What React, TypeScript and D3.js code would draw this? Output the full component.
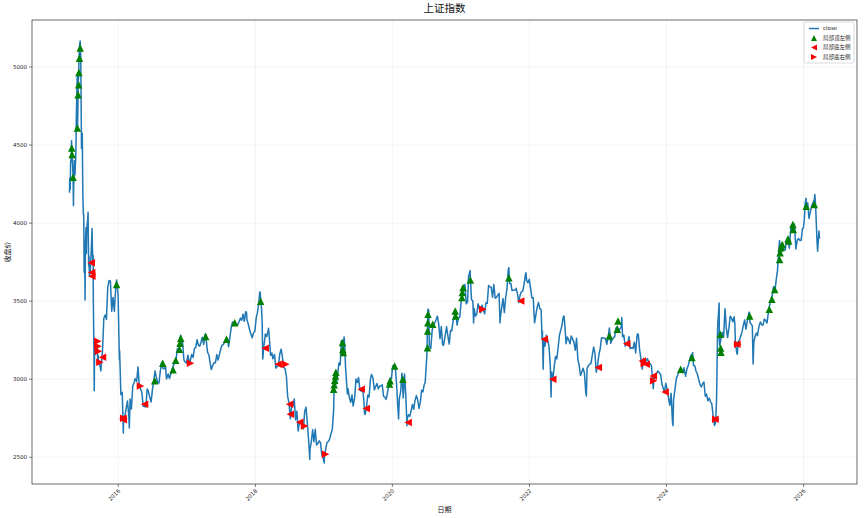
import React from "react";
import * as d3 from "d3";

// ---- data: [mmdd, close] per year ----
const Y2015: [number, number][] = [
  [416, 4194], [417, 4287], [420, 4217], [422, 4398], [424, 4393], [427, 4527], [428, 4476], [430, 4442],
  [505, 4298], [507, 4112], [508, 4205], [512, 4401], [515, 4308], [519, 4417], [521, 4530], [522, 4657],
  [527, 4941], [528, 4620], [529, 4611], [602, 4910], [604, 4947], [605, 5023], [608, 5131], [612, 5166],
  [615, 5062], [619, 4478], [623, 4576], [626, 4192], [629, 4053], [701, 4053], [703, 3686], [706, 3775],
  [708, 3507], [709, 3709], [710, 3877], [713, 3970], [715, 3805], [717, 3957], [722, 4026], [724, 4070],
  [727, 3725], [729, 3789], [731, 3664], [805, 3694], [807, 3744], [812, 3886], [814, 3965], [818, 3748],
  [820, 3794], [821, 3508], [824, 3210], [826, 2927], [828, 3232], [901, 3166], [902, 3160], [911, 3200],
  [914, 3114], [916, 3152], [918, 3097], [925, 3092], [930, 3053], [1009, 3183], [1016, 3391], [1023, 3412],
  [1030, 3383], [1106, 3590], [1113, 3632], [1120, 3630], [1127, 3436], [1204, 3524], [1211, 3434],
  [1218, 3578], [1223, 3636], [1231, 3539],
];
const Y2016: [number, number][] = [
  [104, 3297], [107, 3125], [108, 3186], [115, 2901], [122, 2916], [126, 2750], [128, 2655], [129, 2738],
  [205, 2763], [219, 2861], [226, 2767], [229, 2688], [304, 2874], [311, 2810], [318, 2955], [325, 2979],
  [331, 3004], [408, 2985], [415, 3078], [422, 2959], [429, 2938], [506, 2913], [513, 2827], [520, 2825],
  [527, 2822], [603, 2938], [608, 2927], [617, 2885], [624, 2854], [701, 2932], [708, 2989], [715, 3054],
  [722, 3012], [729, 2979], [805, 2976], [812, 3050], [819, 3108], [826, 3070], [902, 3067], [909, 3078],
  [914, 3002], [923, 3033], [930, 3005], [1014, 3064], [1021, 3090], [1028, 3104], [1104, 3125],
  [1111, 3196], [1118, 3192], [1125, 3262], [1129, 3282], [1202, 3244], [1209, 3232], [1216, 3123],
  [1223, 3110], [1230, 3104],
];
const Y2017: [number, number][] = [
  [106, 3154], [113, 3112], [116, 3103], [120, 3123], [126, 3159], [203, 3140], [210, 3197], [217, 3202],
  [224, 3253], [303, 3218], [310, 3212], [317, 3237], [324, 3269], [331, 3223], [407, 3286], [411, 3289],
  [414, 3246], [421, 3173], [428, 3155], [505, 3103], [511, 3062], [519, 3090], [526, 3107], [602, 3105],
  [609, 3158], [616, 3123], [623, 3158], [630, 3192], [707, 3218], [714, 3222], [721, 3237], [728, 3253],
  [804, 3262], [811, 3208], [818, 3268], [825, 3332], [901, 3366], [908, 3365], [915, 3353], [922, 3353],
  [929, 3349], [1013, 3391], [1020, 3378], [1027, 3417], [1103, 3371], [1110, 3433], [1114, 3430],
  [1117, 3382], [1124, 3353], [1201, 3317], [1208, 3289], [1215, 3266], [1222, 3297], [1229, 3307],
];
const Y2018: [number, number][] = [
  [105, 3391], [112, 3428], [119, 3488], [124, 3559], [126, 3558], [129, 3523], [202, 3462], [206, 3371],
  [209, 3129], [214, 3199], [223, 3289], [302, 3273], [309, 3307], [312, 3326], [316, 3269], [323, 3153],
  [330, 3168], [404, 3131], [413, 3159], [420, 3071], [427, 3082], [504, 3091], [511, 3163], [518, 3193],
  [525, 3141], [601, 3075], [608, 3067], [615, 3022], [622, 2889], [629, 2847], [706, 2747], [713, 2831],
  [720, 2829], [727, 2873], [803, 2740], [810, 2795], [817, 2669], [824, 2729], [831, 2725], [907, 2702],
  [914, 2682], [921, 2797], [928, 2821], [1012, 2606], [1018, 2486], [1019, 2550], [1026, 2598],
  [1102, 2676], [1109, 2599], [1116, 2679], [1123, 2579], [1130, 2588], [1207, 2605], [1214, 2593],
  [1221, 2516], [1228, 2494],
];
const Y2019: [number, number][] = [
  [103, 2464], [104, 2515], [111, 2554], [118, 2596], [125, 2601], [201, 2618], [215, 2682], [222, 2804],
  [225, 2961], [301, 2994], [308, 2969], [315, 3022], [322, 3104], [329, 3091], [404, 3247], [408, 3244],
  [412, 3189], [419, 3271], [422, 3216], [426, 3086], [506, 2906], [510, 2939], [517, 2882], [524, 2852],
  [531, 2899], [606, 2828], [614, 2882], [621, 3001], [628, 2979], [705, 3011], [712, 2930], [719, 2924],
  [726, 2944], [802, 2868], [806, 2777], [809, 2775], [816, 2823], [823, 2898], [830, 2886], [906, 2999],
  [912, 3031], [920, 3006], [927, 2932], [1011, 2973], [1018, 2938], [1025, 2955], [1101, 2958],
  [1108, 2964], [1115, 2891], [1122, 2885], [1129, 2871], [1206, 2912], [1213, 2968], [1220, 3005],
  [1227, 3005], [1231, 3050],
];
const Y2020: [number, number][] = [
  [103, 3083], [110, 3092], [117, 3075], [123, 2976], [203, 2746], [207, 2875], [214, 2917], [221, 3039],
  [228, 2880], [306, 3034], [313, 2887], [319, 2702], [320, 2745], [327, 2772], [403, 2763], [410, 2796],
  [417, 2838], [424, 2808], [430, 2860], [508, 2895], [515, 2868], [522, 2813], [529, 2852], [605, 2930],
  [612, 2919], [619, 2967], [624, 2979], [703, 3152], [706, 3332], [709, 3450], [710, 3383], [713, 3443],
  [716, 3210], [717, 3214], [724, 3197], [731, 3310], [807, 3354], [814, 3360], [821, 3381], [828, 3404],
  [904, 3355], [911, 3260], [918, 3338], [925, 3219], [930, 3218], [1016, 3336], [1023, 3278], [1030, 3225],
  [1106, 3312], [1113, 3310], [1120, 3377], [1127, 3408], [1204, 3444], [1211, 3347], [1218, 3394],
  [1225, 3397], [1231, 3473],
];
const Y2021: [number, number][] = [
  [108, 3570], [115, 3566], [122, 3607], [129, 3483], [205, 3496], [210, 3655], [218, 3696], [226, 3509],
  [305, 3502], [309, 3360], [312, 3453], [319, 3405], [326, 3418], [402, 3484], [409, 3451], [416, 3426],
  [423, 3474], [430, 3447], [507, 3419], [514, 3490], [521, 3487], [528, 3600], [604, 3592], [611, 3589],
  [618, 3525], [625, 3607], [702, 3519], [709, 3525], [716, 3539], [723, 3550], [728, 3361], [730, 3397],
  [806, 3458], [813, 3517], [820, 3427], [827, 3522], [903, 3581], [910, 3703], [913, 3715], [917, 3613],
  [924, 3613], [930, 3568], [1015, 3572], [1022, 3582], [1029, 3547], [1105, 3491], [1112, 3539],
  [1119, 3560], [1126, 3564], [1203, 3607], [1210, 3666], [1213, 3682], [1217, 3632], [1224, 3618],
  [1231, 3640],
];
const Y2022: [number, number][] = [
  [107, 3580], [114, 3521], [121, 3522], [128, 3361], [211, 3462], [218, 3491], [225, 3451], [304, 3447],
  [309, 3256], [311, 3309], [315, 3064], [318, 3251], [325, 3212], [401, 3282], [408, 3251], [415, 3211],
  [422, 3087], [426, 2886], [429, 3047], [506, 3002], [513, 3084], [520, 3146], [527, 3130], [602, 3195],
  [610, 3285], [617, 3316], [624, 3349], [630, 3399], [704, 3405], [708, 3356], [715, 3228], [722, 3270],
  [729, 3253], [805, 3227], [812, 3277], [819, 3258], [826, 3236], [902, 3186], [909, 3262], [916, 3126],
  [923, 3088], [930, 3024], [1014, 3071], [1021, 3038], [1028, 2916], [1031, 2893], [1104, 3070],
  [1111, 3087], [1118, 3097], [1125, 3101], [1202, 3156], [1209, 3206], [1216, 3167], [1223, 3045],
  [1230, 3089],
];
const Y2023: [number, number][] = [
  [106, 3157], [113, 3195], [120, 3265], [203, 3263], [210, 3261], [217, 3224], [224, 3267], [303, 3328],
  [310, 3230], [317, 3250], [324, 3265], [331, 3273], [407, 3327], [414, 3338], [421, 3301], [428, 3323],
  [505, 3334], [508, 3395], [512, 3272], [519, 3283], [526, 3212], [602, 3230], [609, 3231], [616, 3273],
  [621, 3197], [630, 3202], [707, 3197], [714, 3237], [721, 3168], [728, 3276], [731, 3291], [804, 3288],
  [811, 3189], [818, 3131], [825, 3064], [828, 3098], [901, 3133], [908, 3117], [915, 3117], [922, 3132],
  [928, 3110], [1013, 3088], [1020, 2983], [1023, 2939], [1027, 3017], [1103, 3030], [1110, 3038],
  [1117, 3054], [1124, 3041], [1201, 3031], [1208, 2969], [1215, 2942], [1221, 2918], [1229, 2975],
];
const Y2024: [number, number][] = [
  [105, 2929], [112, 2882], [119, 2833], [126, 2910], [202, 2730], [205, 2702], [208, 2866], [223, 3004],
  [301, 3027], [308, 3046], [315, 3054], [322, 3048], [329, 3041], [403, 3074], [412, 3019], [419, 3065],
  [426, 3088], [430, 3105], [510, 3154], [517, 3155], [520, 3171], [524, 3089], [531, 3087], [607, 3051],
  [614, 3033], [621, 2998], [628, 2967], [705, 2950], [712, 2971], [719, 2982], [726, 2891], [802, 2905],
  [809, 2862], [816, 2879], [823, 2855], [830, 2842], [906, 2766], [913, 2704], [918, 2717], [920, 2736],
  [924, 2863], [926, 3000], [927, 3088], [930, 3336], [1008, 3489], [1009, 3258], [1011, 3217],
  [1018, 3261], [1025, 3300], [1101, 3272], [1108, 3452], [1115, 3331], [1122, 3267], [1129, 3326],
  [1206, 3404], [1213, 3391], [1220, 3368], [1227, 3400], [1231, 3352],
];
const Y2025: [number, number][] = [
  [103, 3211], [106, 3206], [110, 3169], [113, 3160], [117, 3241], [124, 3252], [207, 3303], [214, 3346],
  [221, 3379], [228, 3321], [307, 3373], [314, 3419], [318, 3430], [321, 3364], [328, 3352], [403, 3342],
  [407, 3097], [411, 3238], [418, 3277], [425, 3296], [430, 3279], [509, 3342], [516, 3367], [523, 3348],
  [530, 3347], [606, 3385], [613, 3377], [620, 3359], [627, 3424], [704, 3473], [711, 3510], [718, 3534],
  [725, 3593], [801, 3560], [808, 3635], [815, 3697], [822, 3826], [826, 3888], [829, 3858], [905, 3812],
  [912, 3871], [918, 3831], [926, 3828], [930, 3883], [1010, 3897], [1017, 3839], [1024, 3950],
  [1028, 3988], [1031, 3955], [1107, 3997], [1114, 3990], [1121, 3835], [1128, 3888], [1205, 3902],
  [1212, 3889], [1219, 3890], [1226, 3963], [1231, 3969],
];
const Y2026: [number, number][] = [
  [105, 4020], [109, 4120], [114, 4160], [116, 4100], [123, 4130], [130, 4030], [206, 4070], [213, 4110],
  [227, 4150], [302, 4183], [306, 4120], [310, 4000], [313, 3900], [317, 3820], [320, 3880], [324, 3950],
  [327, 3900],
];
const YEARS: [number, [number, number][]][] = [
  [2015, Y2015], [2016, Y2016], [2017, Y2017], [2018, Y2018], [2019, Y2019], [2020, Y2020],
  [2021, Y2021], [2022, Y2022], [2023, Y2023], [2024, Y2024], [2025, Y2025], [2026, Y2026],
];

// ---- signal markers: [date, close] ----
const TOP_LEFT: [string, number][] = [
  ["2015-04-28", 4481], ["2015-04-30", 4439], ["2015-05-05", 4294], ["2015-05-28", 4609], ["2015-06-01", 4822],
  ["2015-06-04", 4886], ["2015-06-05", 4965], ["2015-06-08", 5056], ["2015-06-12", 5121], ["2015-12-23", 3607],
  ["2016-07-13", 2991], ["2016-08-25", 3102], ["2016-10-19", 3060], ["2016-11-02", 3121], ["2016-11-22", 3192],
  ["2016-11-25", 3230], ["2016-11-29", 3262], ["2017-04-11", 3273], ["2017-07-31", 3256], ["2017-09-13", 3362],
  ["2018-01-29", 3500], ["2019-02-22", 2936], ["2019-02-25", 2965], ["2019-02-28", 2994], ["2019-03-04", 3020],
  ["2019-03-06", 3045], ["2019-04-10", 3236], ["2019-04-12", 3190], ["2019-04-15", 3172], ["2019-12-17", 2970],
  ["2019-12-20", 2990], ["2020-01-13", 3085], ["2020-02-26", 3000], ["2020-07-06", 3202], ["2020-07-07", 3309],
  ["2020-07-08", 3362], ["2020-07-09", 3416], ["2020-08-03", 3352], ["2020-12-01", 3437], ["2020-12-03", 3405],
  ["2021-01-06", 3524], ["2021-01-08", 3556], ["2021-01-12", 3588], ["2021-02-20", 3635], ["2021-09-13", 3650],
  ["2023-03-03", 3277], ["2023-04-14", 3320], ["2023-04-18", 3373], ["2024-03-17", 3064], ["2024-05-16", 3139],
  ["2024-10-14", 3288], ["2024-10-16", 3200], ["2024-10-18", 3173], ["2025-03-20", 3405], ["2025-07-02", 3448],
  ["2025-07-16", 3512], ["2025-07-31", 3575], ["2025-08-26", 3767], ["2025-08-29", 3810], ["2025-09-03", 3842],
  ["2025-09-09", 3863], ["2025-10-10", 3900], ["2025-10-13", 3885], ["2025-11-05", 3991], ["2025-11-07", 3959],
  ["2026-01-15", 4108], ["2026-02-27", 4119],
];
const BOTTOM_LEFT: [string, number][] = [
  ["2015-08-10", 3746], ["2015-08-12", 3684], ["2015-08-13", 3660], ["2015-10-09", 3141],
  ["2016-01-26", 2750], ["2016-01-28", 2740], ["2016-05-20", 2840], ["2018-02-22", 3198], ["2018-05-02", 3096],
  ["2018-07-02", 2840], ["2018-07-06", 2776], ["2018-08-25", 2725], ["2019-07-19", 2936], ["2019-08-15", 2813],
  ["2020-03-25", 2723], ["2021-11-15", 3501], ["2022-03-21", 3256], ["2022-05-05", 3000], ["2023-01-03", 3075],
  ["2023-06-03", 3228], ["2023-08-25", 3117], ["2023-09-15", 3096], ["2023-10-23", 3021], ["2023-12-25", 2919],
  ["2024-09-16", 2744], ["2025-01-11", 3224],
];
const BOTTOM_RIGHT: [string, number][] = [
  ["2015-09-14", 3243], ["2015-09-15", 3211], ["2015-09-17", 3179], ["2015-09-25", 3109],
  ["2016-01-30", 2750], ["2016-04-28", 2957], ["2017-01-20", 3102], ["2018-06-12", 3096], ["2018-09-20", 2700],
  ["2019-01-10", 2520], ["2021-04-27", 3448], ["2023-09-05", 3100], ["2023-10-25", 2990], ["2024-09-20", 2744],
  ["2025-01-15", 3224],
];

const X_TICK_YEARS = [2016, 2018, 2020, 2022, 2024, 2026];
const Y_TICKS = [2500, 3000, 3500, 4000, 4500, 5000];
const TITLE = "上证指数";
const X_LABEL = "日期";
const Y_LABEL = "收盘价";
const LEGEND = ["close", "局部顶左侧", "局部底左侧", "局部底右侧"];

const W = 865, H = 518;
const M = { left: 32, right: 857, top: 20, bottom: 484 };
const LINE = "#1f77b4";
const GREEN = "#008000";
const RED = "#ff0000";
const NUM_FONT = "'DejaVu Sans', sans-serif";
const CJK_FONT = "'Noto Sans CJK SC', 'Noto Sans', sans-serif";

type Pt = { d: Date; v: number };
const series: Pt[] = YEARS.flatMap(([y, arr]) =>
  arr.map(([md, v]) => ({ d: new Date(y, Math.floor(md / 100) - 1, md % 100), v }))
);
const parse = d3.timeParse("%Y-%m-%d");
const toPts = (a: [string, number][]): Pt[] => a.map(([s, v]) => ({ d: parse(s) as Date, v }));

function tri(kind: "up" | "left" | "right", s: number) {
  const h = s / 2;
  if (kind === "up") return `M0,${-h}L${-h},${h}L${h},${h}Z`;
  if (kind === "left") return `M${-h},0L${h},${-h}L${h},${h}Z`;
  return `M${h},0L${-h},${-h}L${-h},${h}Z`;
}

export default function App() {
  const [t0, t1] = d3.extent(series, (p) => +p.d) as [number, number];
  const [v0, v1] = d3.extent(series, (p) => p.v) as [number, number];
  const tp = (t1 - t0) * 0.05, vp = (v1 - v0) * 0.05;
  const x = d3.scaleTime().domain([new Date(t0 - tp), new Date(t1 + tp)]).range([M.left, M.right]);
  const y = d3.scaleLinear().domain([v0 - vp, v1 + vp]).range([M.bottom, M.top]);
  const line = d3.line<Pt>().x((p) => x(p.d)).y((p) => y(p.v));
  const xt = X_TICK_YEARS.map((yy) => new Date(yy, 0, 1));
  const MS = 7.5;
  const mk = (pts: Pt[], kind: "up" | "left" | "right", color: string) =>
    pts.map((p, i) => (
      <path key={kind + i} d={tri(kind, MS)} transform={`translate(${x(p.d)},${y(p.v)})`} fill={color} />
    ));
  const lx = 804, ly = 22;
  return (
    <svg width={W} height={H} style={{ position: "absolute", left: 0, top: 0, background: "#fff" }}>
      <rect x={0} y={0} width={W} height={H} fill="#fff" />
      <g>
        {xt.map((d, i) => (
          <line key={"gx" + i} x1={x(d)} x2={x(d)} y1={M.top} y2={M.bottom} stroke="#b0b0b0" strokeOpacity={0.25} strokeWidth={0.6} />
        ))}
        {Y_TICKS.map((v, i) => (
          <line key={"gy" + i} x1={M.left} x2={M.right} y1={y(v)} y2={y(v)} stroke="#b0b0b0" strokeOpacity={0.25} strokeWidth={0.6} />
        ))}
      </g>
      <path d={line(series) || ""} fill="none" stroke={LINE} strokeWidth={1.5} strokeLinejoin="round" />
      {mk(toPts(TOP_LEFT), "up", GREEN)}
      {mk(toPts(BOTTOM_LEFT), "left", RED)}
      {mk(toPts(BOTTOM_RIGHT), "right", RED)}
      <rect x={M.left} y={M.top} width={M.right - M.left} height={M.bottom - M.top} fill="none" stroke="#444" strokeWidth={0.8} />
      {xt.map((d, i) => (
        <g key={"xt" + i} transform={`translate(${x(d)},${M.bottom})`}>
          <line y2={3} stroke="#444" strokeWidth={0.7} />
          <text transform="translate(1,6) rotate(-45)" textAnchor="end" dy="0.35em" fontSize={5.5} fontFamily={NUM_FONT} fill="#222">
            {d.getFullYear()}
          </text>
        </g>
      ))}
      {Y_TICKS.map((v, i) => (
        <g key={"yt" + i} transform={`translate(${M.left},${y(v)})`}>
          <line x2={-3} stroke="#444" strokeWidth={0.7} />
          <text x={-5} dy="0.35em" textAnchor="end" fontSize={5.5} fontFamily={NUM_FONT} fill="#222">{v}</text>
        </g>
      ))}
      <text x={(M.left + M.right) / 2} y={12} textAnchor="middle" fontSize={10.5} fontFamily={CJK_FONT} fill="#111">{TITLE}</text>
      <text x={(M.left + M.right) / 2} y={512} textAnchor="middle" fontSize={7} fontFamily={CJK_FONT} fill="#111">{X_LABEL}</text>
      <text transform={`translate(10,${(M.top + M.bottom) / 2}) rotate(-90)`} textAnchor="middle" fontSize={7} fontFamily={CJK_FONT} fill="#111">{Y_LABEL}</text>
      <g transform={`translate(${lx},${ly})`}>
        <rect x={0} y={0} width={50} height={41} rx={2} fill="#fff" fillOpacity={0.8} stroke="#ccc" strokeWidth={0.7} />
        {LEGEND.map((t, i) => {
          const cy = 6.5 + i * 9.5;
          return (
            <g key={"lg" + i}>
              {i === 0 ? (
                <line x1={5} x2={15} y1={cy} y2={cy} stroke={LINE} strokeWidth={1.5} />
              ) : (
                <path d={tri(i === 1 ? "up" : i === 2 ? "left" : "right", 6)} transform={`translate(10,${cy})`} fill={i === 1 ? GREEN : RED} />
              )}
              <text x={19} y={cy} dy="0.35em" fontSize={5.5} fontFamily={i === 0 ? NUM_FONT : CJK_FONT} fill="#222">{t}</text>
            </g>
          );
        })}
      </g>
    </svg>
  );
}
